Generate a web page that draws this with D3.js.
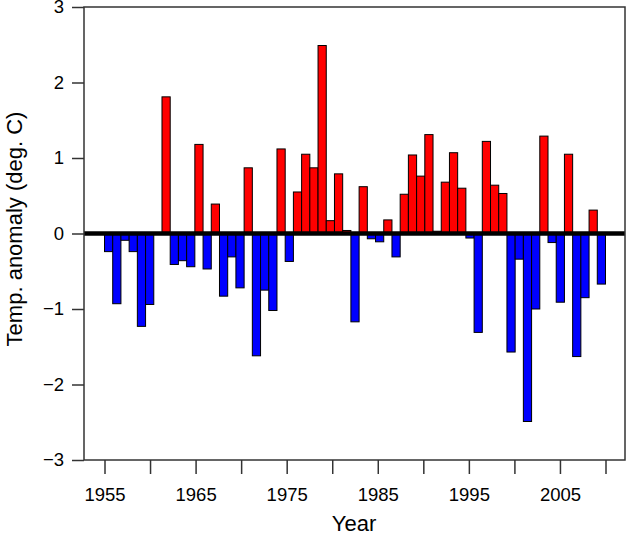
<!DOCTYPE html>
<html>
<head>
<meta charset="utf-8">
<script src="https://cdn.jsdelivr.net/npm/d3@7/dist/d3.min.js"></script>
<style>
  body { margin: 0; background: #fff; }
  svg { display: block; font-family: "Liberation Sans", Arial, sans-serif; }
</style>
</head>
<body>
<div id="chart"></div>
<script>
// annual anomalies, one per bar (61 bars)
var years = d3.range(1950, 2011);
var anomaly = [
  -0.24, -0.93, -0.09, -0.24, -1.23, -0.94, 0.0, 1.81, -0.41, -0.36,
  -0.44, 1.18, -0.47, 0.39, -0.83, -0.31, -0.72, 0.87, -1.62, -0.75,
  -1.02, 1.12, -0.37, 0.55, 1.05, 0.87, 2.49, 0.17, 0.79, 0.04,
  -1.17, 0.62, -0.07, -0.11, 0.18, -0.31, 0.52, 1.04, 0.76, 1.31,
  0.03, 0.68, 1.07, 0.60, -0.06, -1.31, 1.22, 0.64, 0.53, -1.57,
  -0.34, -2.49, -1.00, 1.29, -0.12, -0.91, 1.05, -1.63, -0.85, 0.31,
  -0.67
];
var yTicks = [-3, -2, -1, 0, 1, 2, 3];
var xTicks = d3.range(1955, 2011, 5);
var xLabels = [1955, 1965, 1975, 1985, 1995, 2005];

var w = 626;
var h = 537;
var pLeft = 84, pRight = 625, pTop = 7, pBottom = 460;
var barL = 104.5, barR = 605.5;

var svg = d3.select("#chart")
  .append("svg")
  .attr("width", w)
  .attr("height", h);

var y = d3.scaleLinear().domain([-3, 3]).range([pBottom, pTop]);
var xBand = d3.scaleBand().domain(years).range([barL, barR]).padding(0);
var xAxisScale = d3.scaleLinear().domain([1955, 2010]).range([barL, barR]);

var data = years.map(function(yr, i) { return {year: yr, v: anomaly[i]}; });

svg.selectAll("rect.bar")
  .data(data)
  .enter()
  .append("rect")
  .attr("class", "bar")
  .attr("x", function(d) { return xBand(d.year); })
  .attr("width", xBand.bandwidth())
  .attr("y", function(d) { return y(Math.max(0, d.v)); })
  .attr("height", function(d) { return Math.abs(y(d.v) - y(0)); })
  .attr("fill", function(d) { return d.v >= 0 ? "#ff0000" : "#0000ff"; })
  .attr("stroke", "#000")
  .attr("stroke-width", 1);

// zero line
svg.append("line")
  .attr("x1", pLeft)
  .attr("x2", pRight)
  .attr("y1", y(0))
  .attr("y2", y(0))
  .attr("stroke", "#000")
  .attr("stroke-width", 4.5);

// frame
svg.append("rect")
  .attr("x", pLeft)
  .attr("y", pTop)
  .attr("width", pRight - pLeft)
  .attr("height", pBottom - pTop)
  .attr("fill", "none")
  .attr("stroke", "#333")
  .attr("stroke-width", 1.5);

var yaxis = svg.append("g")
  .attr("transform", "translate(" + pLeft + ",0)")
  .call(d3.axisLeft(y)
    .tickValues(yTicks)
    .tickSize(12)
    .tickPadding(8)
    .tickFormat(function(d) { return d < 0 ? "\u2212" + Math.abs(d) : d; }));

var xaxis = svg.append("g")
  .attr("transform", "translate(0," + pBottom + ")")
  .call(d3.axisBottom(xAxisScale)
    .tickValues(xTicks)
    .tickSize(14)
    .tickPadding(14)
    .tickFormat(function(d) { return xLabels.indexOf(d) >= 0 ? d : ""; }));

[yaxis, xaxis].forEach(function(g) {
  g.select(".domain").remove();
  g.selectAll(".tick line").attr("stroke", "#333").attr("stroke-width", 1.5);
  g.selectAll(".tick text")
    .attr("fill", "#000")
    .style("font-size", "18.5px")
    .style("font-family", "Liberation Sans, Arial, sans-serif");
});

svg.append("text")
  .attr("transform", "translate(14,229) rotate(-90)")
  .attr("text-anchor", "middle")
  .attr("dominant-baseline", "central")
  .style("font-size", "22px")
  .text("Temp. anomaly (deg. C)");

svg.append("text")
  .attr("x", 354)
  .attr("y", 531)
  .attr("text-anchor", "middle")
  .style("font-size", "22px")
  .text("Year");
</script>
</body>
</html>
